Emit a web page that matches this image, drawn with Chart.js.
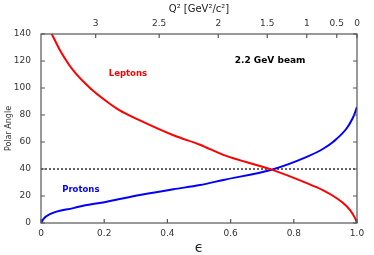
<!DOCTYPE html>
<html>
<head>
<meta charset="utf-8">
<script src="https://cdn.jsdelivr.net/npm/chart.js@4/dist/chart.umd.min.js"></script>
<style>
  html, body { margin: 0; padding: 0; background: #fff; }
  #wrap { width: 374px; height: 255px; }
</style>
</head>
<body>
<div id="wrap"><canvas id="c"></canvas></div>
<script>
// ===== data =====
const lepEps   = [0.034, 0.06, 0.102, 0.155, 0.208, 0.245, 0.313, 0.419, 0.503, 0.577, 0.73, 0.841, 0.893, 0.925, 0.955, 0.978, 0.993, 1.0];
const lepAngle = [140,   128,  113,   100,   90,    84,    76,    65,    58,    50.5,  39.5, 29.5,  24.2,  20,    15,    9.6,   4,     0];

const proEps   = [0, 0.008, 0.028, 0.102, 0.145, 0.208, 0.313, 0.419, 0.503, 0.577, 0.73, 0.841, 0.893, 0.925, 0.967, 0.985, 0.994, 1.0];
const proAngle = [0, 3,     6.5,   11,    13.3,  15.8,  20.7,  25,    28.1,  31.9,  39.5, 49,    55,    60.2,  70,    77,    82,    86];

const refEps   = [0, 1];
const refAngle = [40, 40];

// top axis: Q^2 tick labels and where they sit on the epsilon scale
const q2Labels = ['3', '2.5', '2', '1.5', '1', '0.5', '0'];
const q2Eps    = [0.173, 0.374, 0.561, 0.716, 0.841, 0.936, 1.0];

const toXY = (xs, ys) => xs.map((x, i) => ({ x: x, y: ys[i] }));

// labels inside the plot (data coords)
const notes = [
  { text: 'Leptons',      x: 0.275, y: 110.5, color: '#ff0000', size: 8.5 },
  { text: 'Protons',      x: 0.126, y: 24.8,  color: '#0000ff', size: 8.5 },
  { text: '2.2 GeV beam', x: 0.725, y: 120,   color: '#000000', size: 9 }
];

// frame + inward ticks + notes
const framePlugin = {
  id: 'frame',
  afterDatasetsDraw(chart) {
    const { ctx, chartArea: a, scales } = chart;
    const len = 4;
    ctx.save();
    ctx.strokeStyle = '#555';
    ctx.lineWidth = 1.2;
    ctx.strokeRect(a.left, a.top, a.right - a.left, a.bottom - a.top);
    ctx.beginPath();
    scales.x.ticks.forEach(t => {
      const px = scales.x.getPixelForValue(t.value);
      ctx.moveTo(px, a.bottom); ctx.lineTo(px, a.bottom - len);
    });
    scales.xq.ticks.forEach(t => {
      const px = scales.xq.getPixelForValue(t.value);
      ctx.moveTo(px, a.top); ctx.lineTo(px, a.top + len);
    });
    scales.y.ticks.forEach(t => {
      const py = scales.y.getPixelForValue(t.value);
      ctx.moveTo(a.left, py); ctx.lineTo(a.left + len, py);
      ctx.moveTo(a.right, py); ctx.lineTo(a.right - len, py);
    });
    ctx.stroke();

    ctx.textAlign = 'center';
    ctx.textBaseline = 'middle';
    notes.forEach(n => {
      ctx.fillStyle = n.color;
      ctx.font = 'bold ' + n.size + 'px "DejaVu Sans"';
      ctx.fillText(n.text, scales.x.getPixelForValue(n.x), scales.y.getPixelForValue(n.y));
    });
    ctx.restore();
  }
};

const tickFont = { family: 'DejaVu Sans', size: 9 };

new Chart(document.getElementById('c'), {
  type: 'line',
  data: {
    datasets: [
      {
        label: 'Leptons',
        data: toXY(lepEps, lepAngle),
        borderColor: '#ff0000',
        borderWidth: 2,
        pointRadius: 0,
        cubicInterpolationMode: 'monotone',
        fill: false
      },
      {
        label: 'Protons',
        data: toXY(proEps, proAngle),
        borderColor: '#0000ff',
        borderWidth: 2,
        pointRadius: 0,
        cubicInterpolationMode: 'monotone',
        fill: false
      },
      {
        label: '40',
        data: toXY(refEps, refAngle),
        borderColor: '#000000',
        borderWidth: 1.2,
        borderDash: [2, 2],
        pointRadius: 0,
        fill: false
      }
    ]
  },
  options: {
    responsive: true,
    maintainAspectRatio: false,
    animation: false,
    layout: { padding: { left: 0, right: 17, top: 0, bottom: 0 } },
    plugins: {
      legend: { display: false },
      tooltip: { enabled: false }
    },
    scales: {
      x: {
        type: 'linear',
        position: 'bottom',
        min: 0, max: 1,
        grid: { display: false, drawTicks: false },
        border: { display: false },
        ticks: { stepSize: 0.2, color: '#333', font: tickFont, padding: 5 },
        title: { display: true, text: 'ϵ', color: '#222', font: { family: 'DejaVu Sans', size: 14, lineHeight: 1 }, padding: { top: 0, bottom: 0 } },
        afterFit: s => { s.height = 32; }
      },
      xq: {
        type: 'linear',
        position: 'top',
        min: 0, max: 1,
        grid: { display: false, drawTicks: false },
        border: { display: false },
        afterBuildTicks: s => { s.ticks = q2Eps.map(v => ({ value: v })); },
        ticks: {
          autoSkip: false,
          color: '#333',
          font: tickFont,
          padding: 5,
          callback: (v, i) => q2Labels[i]
        },
        title: { display: true, text: 'Q² [GeV²/c²]', color: '#222', font: { family: 'DejaVu Sans', size: 10 }, padding: { top: 3, bottom: 0 } },
        afterFit: s => { s.height = 34; }
      },
      y: {
        type: 'linear',
        position: 'left',
        min: 0, max: 140,
        grid: { display: false, drawTicks: false },
        border: { display: false },
        ticks: { stepSize: 20, color: '#333', font: tickFont, padding: 10 },
        title: { display: true, text: 'Polar Angle', color: '#333', font: { family: 'DejaVu Sans', size: 8 }, padding: { top: 4, bottom: 0 } },
        afterFit: s => { s.width = 41; }
      }
    }
  },
  plugins: [framePlugin]
});
</script>
</body>
</html>
